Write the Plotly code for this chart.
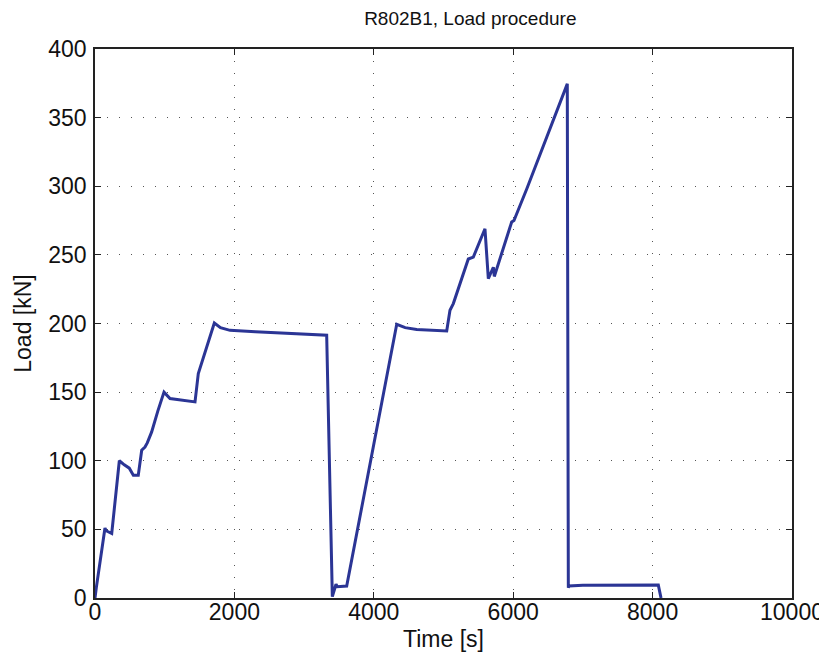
import plotly.graph_objects as go

# Load procedure trace
time_s = [0, 20, 143, 160, 240, 349, 420, 492, 550, 621, 670, 717, 750, 789, 813, 900, 990,
          1076, 1250, 1435, 1482, 1600, 1712, 1800, 1937, 2300, 2654, 3000, 3324,
          3405, 3458, 3476, 3611, 4329, 4450, 4615, 5046,
          5093, 5141, 5356, 5428, 5595, 5620, 5643, 5715, 5729, 5978, 6011, 6194,
          6400, 6600, 6776, 6791, 6800, 7000, 7500, 8082, 8121]
load_kN = [0, 8, 51, 49, 47, 100, 97, 94.6, 89.5, 89.5, 107.7, 110, 113, 117.4, 121, 136, 150,
           145.3, 144, 142.9, 163.5, 182, 200.4, 197, 195, 194, 193, 192, 191.4,
           1, 10, 8.2, 8.7, 199.4, 197, 195.6, 194.5,
           209.6, 214.5, 247, 248.4, 269, 252, 232.7, 241, 234.3, 273.9, 275, 298,
           325, 352, 374.6, 7.5, 8.8, 9.2, 9.3, 9.4, 0]

x_ticks = [0, 2000, 4000, 6000, 8000, 10000]
y_ticks = [0, 50, 100, 150, 200, 250, 300, 350, 400]

fig = go.Figure()
fig.add_trace(go.Scatter(x=time_s, y=load_kN, mode="lines",
                         line=dict(color="#2b3595", width=3), showlegend=False))

font_family = "Liberation Sans, Arial, sans-serif"
axis_common = dict(
    showline=True, linecolor="#222", linewidth=1.5, mirror="ticks",
    ticks="inside", ticklen=6, tickcolor="#222", tickwidth=1.2,
    showgrid=True, gridcolor="#555", gridwidth=1, griddash="1px,11px",
    zeroline=False, automargin=False,
    tickfont=dict(family=font_family, size=23, color="#111"),
)

fig.update_layout(
    width=827, height=662,
    paper_bgcolor="white", plot_bgcolor="white",
    margin=dict(l=87, r=43, t=41, b=72, autoexpand=False),
    title=dict(text="R802B1, Load procedure", x=0.559, xanchor="center", y=0.985, yanchor="middle",
               font=dict(family=font_family, size=19, color="#111"), automargin=False),
    xaxis=dict(range=[0, 10000], tickvals=x_ticks, ticktext=[str(v) for v in x_ticks],
               title=dict(text="Time [s]", font=dict(family=font_family, size=23, color="#111"), standoff=7),
               ticklabelstandoff=-7, **axis_common),
    yaxis=dict(range=[0, 400], tickvals=y_ticks, ticktext=[str(v) for v in y_ticks],
               title=dict(text="Load [kN]", font=dict(family=font_family, size=23, color="#111"), standoff=10),
               ticklabelstandoff=2, **axis_common),
)

fig.write_html("out.html")
